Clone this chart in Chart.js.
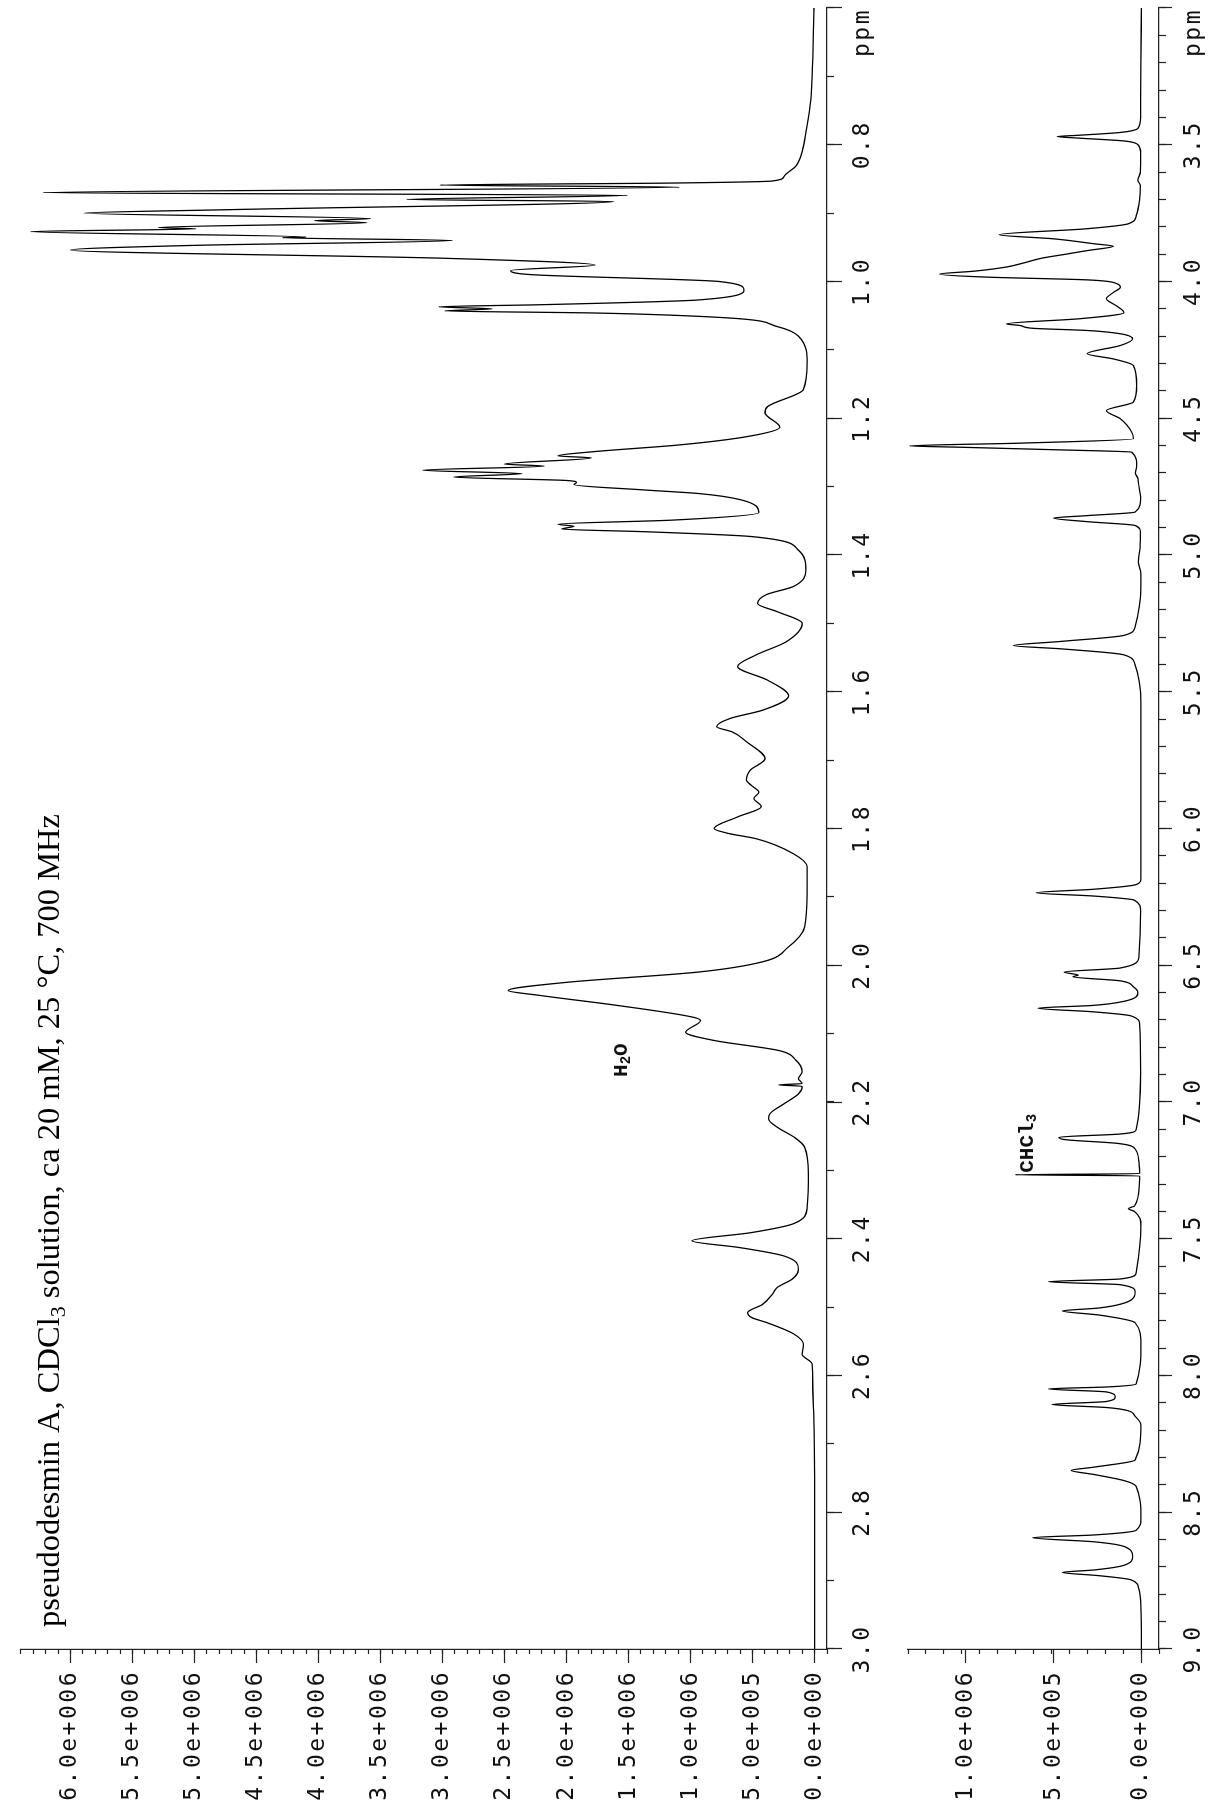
<!DOCTYPE html>
<html>
<head>
<meta charset="utf-8">
<title>pseudodesmin A, CDCl3, 700 MHz</title>
<script src="https://cdn.jsdelivr.net/npm/chart.js@4.4.1/dist/chart.umd.min.js"></script>
<style>
  html, body { margin: 0; padding: 0; background: #fff; overflow: hidden; }
  body { width: 1208px; height: 1816px; position: relative; }
  /* the plot is laid out landscape and turned a quarter to the left */
  #sheet {
    position: absolute; left: 0; top: 0;
    width: 1816px; height: 1208px;
    transform-origin: 0 0;
    transform: translate(0, 1816px) rotate(-90deg);
  }
  #sheet canvas { position: absolute; left: 0; }
  #upper { top: 0; }
  #lower { top: 880px; }
</style>
</head>
<body>
<div id="sheet">
  <canvas id="upper" width="1816" height="900" style="width:1816px;height:900px"></canvas>
  <canvas id="lower" width="1816" height="328" style="width:1816px;height:328px"></canvas>
</div>
<script>
// ── Spectrum, aliphatic part (0.6 – 3.0 ppm), intensity in units of 1e6 ──
const UP_PPM = [
  0.600, 0.700, 0.734, 0.782, 0.807, 0.831, 0.846, 0.853, 0.856, 0.859,
  0.862, 0.870, 0.874, 0.880, 0.883, 0.895, 0.900, 0.908, 0.911, 0.914,
  0.921, 0.923, 0.927, 0.935, 0.936, 0.940, 0.947, 0.954, 0.966, 0.976,
  0.984, 0.990, 1.000, 1.012, 1.027, 1.034, 1.037, 1.040, 1.043, 1.046,
  1.053, 1.066, 1.080, 1.119, 1.158, 1.183, 1.192, 1.213, 1.227, 1.239,
  1.249, 1.255, 1.258, 1.267, 1.270, 1.276, 1.281, 1.286, 1.291, 1.294,
  1.297, 1.305, 1.310, 1.319, 1.338, 1.349, 1.355, 1.358, 1.362, 1.366,
  1.373, 1.393, 1.422, 1.446, 1.458, 1.471, 1.483, 1.500, 1.527, 1.546,
  1.563, 1.583, 1.606, 1.627, 1.639, 1.651, 1.659, 1.673, 1.698, 1.715,
  1.729, 1.737, 1.747, 1.756, 1.768, 1.783, 1.800, 1.807, 1.815, 1.837,
  1.856, 1.895, 1.944, 1.973, 1.995, 2.010, 2.025, 2.037, 2.044, 2.059,
  2.076, 2.081, 2.098, 2.110, 2.125, 2.139, 2.156, 2.166, 2.173, 2.175,
  2.177, 2.188, 2.203, 2.217, 2.225, 2.237, 2.252, 2.266, 2.305, 2.354,
  2.378, 2.391, 2.403, 2.413, 2.425, 2.445, 2.459, 2.471, 2.481, 2.496,
  2.508, 2.515, 2.523, 2.539, 2.554, 2.569, 2.583, 2.618, 2.666, 2.813,
  3.000
];
const UP_INT = [
  0.005, 0.02, 0.03, 0.07, 0.096, 0.15, 0.245, 0.34, 1.15, 3.02,
  1.09, 6.22, 1.51, 3.29, 1.62, 4.74, 5.89, 3.58, 4.03, 3.61,
  5.29, 4.99, 6.32, 4.10, 4.29, 2.92, 4.97, 6.00, 2.99, 1.77,
  2.45, 2.28, 0.77, 0.57, 0.94, 2.22, 3.03, 2.60, 2.98, 1.79,
  0.72, 0.30, 0.13, 0.06, 0.09, 0.38, 0.40, 0.28, 0.55, 1.09,
  1.79, 2.07, 1.80, 2.50, 2.18, 3.16, 2.36, 2.91, 2.00, 1.92,
  1.94, 1.36, 0.94, 0.60, 0.45, 1.15, 2.07, 1.94, 2.04, 1.36,
  0.51, 0.13, 0.07, 0.17, 0.39, 0.46, 0.30, 0.10, 0.23, 0.47,
  0.62, 0.38, 0.21, 0.42, 0.68, 0.79, 0.66, 0.55, 0.40, 0.52,
  0.55, 0.51, 0.45, 0.49, 0.43, 0.62, 0.81, 0.70, 0.47, 0.17,
  0.06, 0.06, 0.08, 0.21, 0.42, 0.94, 2.00, 2.47, 2.22, 1.58,
  0.98, 0.92, 1.04, 0.81, 0.28, 0.15, 0.10, 0.13, 0.10, 0.29,
  0.10, 0.13, 0.25, 0.36, 0.37, 0.30, 0.16, 0.08, 0.05, 0.06,
  0.17, 0.51, 0.99, 0.60, 0.25, 0.13, 0.18, 0.30, 0.34, 0.42,
  0.54, 0.51, 0.38, 0.17, 0.09, 0.10, 0.02, 0.015, 0.006, 0.0,
  0.0
];

// ── Spectrum, low-field part (3.0 – 9.0 ppm), intensity in units of 1e6 ──
const LO_PPM = [
  3.000, 3.200, 3.400, 3.440, 3.455, 3.465, 3.470, 3.476, 3.486, 3.500,
  3.530, 3.600, 3.630, 3.650, 3.700, 3.760, 3.789, 3.807, 3.829, 3.844,
  3.862, 3.871, 3.887, 3.899, 3.915, 3.932, 3.947, 3.962, 3.973, 3.984,
  3.994, 4.008, 4.021, 4.040, 4.063, 4.090, 4.114, 4.136, 4.155, 4.161,
  4.171, 4.179, 4.191, 4.210, 4.234, 4.264, 4.283, 4.307, 4.380, 4.441,
  4.472, 4.502, 4.551, 4.575, 4.591, 4.601, 4.606, 4.615, 4.624, 4.673,
  4.700, 4.720, 4.734, 4.795, 4.843, 4.856, 4.865, 4.878, 4.892, 4.917,
  4.962, 5.025, 5.060, 5.112, 5.262, 5.294, 5.316, 5.331, 5.343, 5.365,
  5.402, 5.541, 6.185, 6.205, 6.222, 6.235, 6.247, 6.262, 6.300, 6.471,
  6.510, 6.525, 6.536, 6.542, 6.557, 6.578, 6.600, 6.632, 6.647, 6.657,
  6.670, 6.685, 6.717, 6.898, 7.101, 7.117, 7.129, 7.138, 7.151, 7.172,
  7.219, 7.250, 7.262, 7.266, 7.270, 7.300, 7.380, 7.390, 7.400, 7.454,
  7.625, 7.647, 7.657, 7.668, 7.694, 7.722, 7.753, 7.764, 7.779, 7.807,
  7.882, 8.031, 8.042, 8.049, 8.060, 8.078, 8.095, 8.106, 8.117, 8.128,
  8.149, 8.181, 8.309, 8.335, 8.347, 8.362, 8.384, 8.405, 8.523, 8.566,
  8.583, 8.593, 8.608, 8.625, 8.662, 8.694, 8.711, 8.720, 8.732, 8.747,
  8.780, 8.850, 9.000
];
const LO_INT = [
  0.0, 0.003, 0.005, 0.02, 0.12, 0.35, 0.48, 0.35, 0.10, 0.02,
  0.005, 0.006, 0.02, 0.006, 0.01, 0.03, 0.075, 0.31, 0.81, 0.50,
  0.27, 0.16, 0.31, 0.42, 0.57, 0.67, 0.77, 0.95, 1.15, 0.88,
  0.31, 0.14, 0.12, 0.16, 0.20, 0.14, 0.10, 0.35, 0.77, 0.69,
  0.62, 0.31, 0.12, 0.05, 0.12, 0.31, 0.16, 0.046, 0.027, 0.046,
  0.20, 0.12, 0.055, 0.046, 0.69, 1.32, 1.03, 0.50, 0.055, 0.027,
  0.035, 0.02, 0.018, 0.005, 0.036, 0.31, 0.50, 0.31, 0.036, 0.006,
  0.007, 0.018, 0.005, 0.003, 0.036, 0.10, 0.46, 0.73, 0.46, 0.10,
  0.036, 0.003, 0.003, 0.03, 0.27, 0.60, 0.27, 0.04, 0.005, 0.015,
  0.12, 0.44, 0.36, 0.39, 0.12, 0.047, 0.02, 0.10, 0.28, 0.59,
  0.28, 0.06, 0.01, 0.005, 0.03, 0.12, 0.47, 0.43, 0.14, 0.036,
  0.015, 0.01, 0.01, 0.72, 0.01, 0.012, 0.04, 0.075, 0.04, 0.003,
  0.03, 0.12, 0.53, 0.12, 0.036, 0.055, 0.24, 0.45, 0.24, 0.036,
  0.003, 0.03, 0.20, 0.53, 0.20, 0.15, 0.20, 0.51, 0.20, 0.08,
  0.036, 0.003, 0.036, 0.27, 0.40, 0.27, 0.10, 0.03, 0.003, 0.03,
  0.27, 0.62, 0.27, 0.10, 0.05, 0.10, 0.27, 0.45, 0.24, 0.06,
  0.015, 0.003, 0.0
];

// ── Axis ticks and labels ──
const UP_X_TICKS  = [0.6, 0.8, 1.0, 1.2, 1.4, 1.6, 1.8, 2.0, 2.2, 2.4, 2.6, 2.8, 3.0];
const UP_X_LABELS = ["", "0.8", "1.0", "1.2", "1.4", "1.6", "1.8", "2.0", "2.2", "2.4", "2.6", "2.8", "3.0"];
const UP_Y_TICKS  = [0, 5e5, 1e6, 1.5e6, 2e6, 2.5e6, 3e6, 3.5e6, 4e6, 4.5e6, 5e6, 5.5e6, 6e6];
const UP_Y_LABELS = ["0.0e+000", "5.0e+005", "1.0e+006", "1.5e+006", "2.0e+006", "2.5e+006", "3.0e+006",
                     "3.5e+006", "4.0e+006", "4.5e+006", "5.0e+006", "5.5e+006", "6.0e+006"];
const LO_X_TICKS  = [3.0, 3.5, 4.0, 4.5, 5.0, 5.5, 6.0, 6.5, 7.0, 7.5, 8.0, 8.5, 9.0];
const LO_X_LABELS = ["", "3.5", "4.0", "4.5", "5.0", "5.5", "6.0", "6.5", "7.0", "7.5", "8.0", "8.5", "9.0"];
const LO_Y_TICKS  = [0, 5e5, 1e6];
const LO_Y_LABELS = ["0.0e+000", "5.0e+005", "1.0e+006"];

// ── Annotations ──
const TITLE_PARTS = [["pseudodesmin A, CDCl", 32.5, 0], ["3", 22, 6], [" solution, ca 20 mM, 25 \u00B0C, 700 MHz", 32.5, 0]];
const WATER   = { ppm: 2.175, level: 1.51e6, parts: [["H", 21, 0], ["2", 14, 3], ["O", 21, 0]] };
const SOLVENT = { ppm: 7.266, level: 0.62e6, parts: [["CHCl", 21, 0], ["3", 14, 3]] };

const INK   = "#111";
const AXIS  = "#222";
const MONO  = "'DejaVu Sans Mono', monospace";
const SERIF = "'Liberation Serif', 'Times New Roman', serif";
const TAG   = "'Liberation Mono', 'Courier New', monospace";
const TICK_FONT = { family: MONO, size: 23 };
const TRACK = "2.5px";

// tick labels in the original are widely spaced
const spacing = {
  id: "spacing",
  beforeDraw(chart) { chart.ctx.letterSpacing = TRACK; },
};

function runs(ctx, x, y, parts, family, weight) {
  parts.forEach(([text, size, dy]) => {
    ctx.font = `${weight} ${size}px ${family}`;
    ctx.fillText(text, x, y + dy);
    x += ctx.measureText(text).width;
  });
}

function ppmTag(chart, o) {
  const ctx = chart.ctx;
  const sx = chart.scales.x;
  ctx.save();
  ctx.letterSpacing = TRACK;
  ctx.font = `${TICK_FONT.size}px ${MONO}`;
  ctx.fillStyle = INK;
  ctx.textAlign = "right";
  ctx.textBaseline = "middle";
  ctx.fillText("ppm", chart.width - 8, sx.top + o.xMajorLen + o.xPad + TICK_FONT.size * 0.6);
  ctx.restore();
}

function spectrum(el, o) {
  const points = o.ppm.map((p, i) => ({ x: p, y: o.int[i] * 1e6 }));
  return new Chart(el, {
    type: "line",
    data: {
      datasets: [{
        data: points,
        borderColor: "#000",
        borderWidth: 1.3,
        pointRadius: 0,
        fill: false,
        cubicInterpolationMode: "monotone",
      }],
    },
    options: {
      responsive: false,
      animation: false,
      events: [],
      layout: { padding: { top: o.padTop, right: 8, bottom: 0, left: 0 } },
      plugins: { legend: { display: false }, tooltip: { enabled: false } },
      scales: {
        x: {
          type: "linear", position: "bottom", weight: 1, reverse: true,
          min: o.xMin, max: o.xMax,
          afterBuildTicks: s => { s.ticks = o.xTicks.map(v => ({ value: v })); },
          afterFit: s => { s.height = o.xHeight; },
          grid: { drawOnChartArea: false, tickLength: o.xMajorLen, tickColor: AXIS, tickWidth: 1.2 },
          border: { color: AXIS, width: 1.2 },
          ticks: {
            autoSkip: false, maxRotation: 0, minRotation: 0, padding: o.xPad,
            color: INK, font: TICK_FONT,
            callback: (v, i) => o.xLabels[i],
          },
        },
        xMinor: {
          type: "linear", position: "bottom", weight: 0, reverse: true,
          min: o.xMin, max: o.xMax,
          afterFit: s => { s.height = 0; },
          grid: { drawOnChartArea: false, tickLength: 7, tickColor: AXIS, tickWidth: 1.2 },
          border: { display: false },
          ticks: { display: false, stepSize: 0.1, includeBounds: false },
        },
        y: {
          type: "linear", position: "left", weight: 1,
          min: o.yMin, max: o.yMax,
          afterBuildTicks: s => { s.ticks = o.yTicks.map(v => ({ value: v })); },
          afterFit: s => { s.width = 167; },
          grid: { drawOnChartArea: false, tickLength: 14, tickColor: AXIS, tickWidth: 1.2 },
          border: { color: AXIS, width: 1.2 },
          ticks: {
            autoSkip: false, padding: 7,
            color: INK, font: TICK_FONT,
            callback: (v, i) => o.yLabels[i],
          },
        },
        yMinor: {
          type: "linear", position: "left", weight: 0,
          min: o.yMin, max: o.yMax,
          afterFit: s => { s.width = 0; },
          grid: { drawOnChartArea: false, tickLength: 5, tickColor: AXIS, tickWidth: 1.2 },
          border: { display: false },
          ticks: { display: false, stepSize: 1e5, includeBounds: false },
        },
      },
    },
    plugins: [spacing, { id: "notes", afterDraw: chart => { ppmTag(chart, o); o.notes(chart); } }],
  });
}

function tag(chart, note) {
  const ctx = chart.ctx;
  const x = chart.scales.x.getPixelForValue(note.ppm) + note.dx;
  const y = chart.scales.y.getPixelForValue(note.level);
  ctx.save();
  ctx.letterSpacing = "0px";
  ctx.fillStyle = INK;
  ctx.textAlign = "left";
  ctx.textBaseline = "alphabetic";
  runs(ctx, x, y, note.parts, TAG, "bold");
  ctx.restore();
}

spectrum(document.getElementById("upper"), {
  ppm: UP_PPM, int: UP_INT,
  xMin: 0.6, xMax: 3.0, yMin: -1e5, yMax: 6.4e6,
  xTicks: UP_X_TICKS, xLabels: UP_X_LABELS, yTicks: UP_Y_TICKS, yLabels: UP_Y_LABELS,
  padTop: 11, xHeight: 73, xMajorLen: 15, xPad: 7,
  notes(chart) {
    const ctx = chart.ctx;
    ctx.save();
    ctx.letterSpacing = "0px";
    ctx.fillStyle = "#000";
    ctx.textAlign = "left";
    ctx.textBaseline = "alphabetic";
    runs(ctx, chart.chartArea.left + 22, 59, TITLE_PARTS, SERIF, "normal");
    ctx.restore();
    tag(chart, { ...WATER, dx: 8 });
  },
});

spectrum(document.getElementById("lower"), {
  ppm: LO_PPM, int: LO_INT,
  xMin: 3.0, xMax: 9.0, yMin: -1e5, yMax: 1.33e6,
  xTicks: LO_X_TICKS, xLabels: LO_X_LABELS, yTicks: LO_Y_TICKS, yLabels: LO_Y_LABELS,
  padTop: 28, xHeight: 49, xMajorLen: 13, xPad: 8,
  notes(chart) {
    tag(chart, { ...SOLVENT, dx: 2 });
  },
});
</script>
</body>
</html>
